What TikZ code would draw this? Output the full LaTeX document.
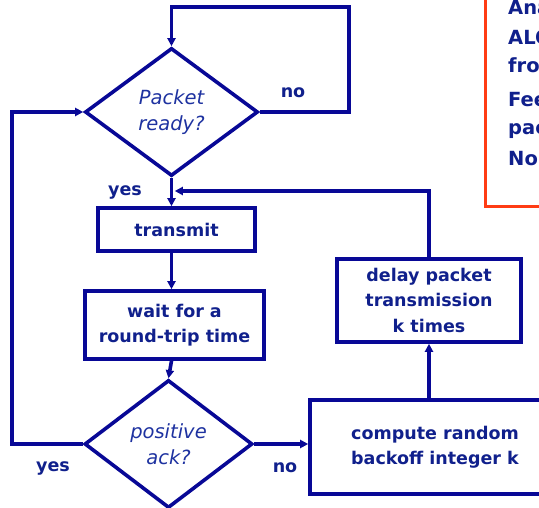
\documentclass[tikz,border=0pt]{standalone}
\usepackage{fontspec}
\setmainfont{DejaVu Sans}
\usetikzlibrary{shapes.geometric,arrows.meta}
\definecolor{flowline}{RGB}{8,8,150}
\definecolor{flowtext}{RGB}{16,32,140}
\definecolor{ackcol}{RGB}{30,50,160}
\definecolor{notered}{RGB}{255,60,20}
\tikzset{
  flow/.style={draw=flowline, line width=3.6pt},
  arr/.style={flow, -{Triangle[length=8pt,width=8pt]}},
  procbox/.style={flow, rectangle, inner sep=0pt, text=flowtext,
    font=\fontsize{17.5}{25}\selectfont\bfseries, align=center},
  decide/.style={flow, diamond, inner sep=0pt, text=ackcol,
    font=\fontsize{19.5}{26}\selectfont\itshape, align=center},
  tag/.style={text=flowtext, font=\fontsize{17.5}{18}\selectfont\bfseries, inner sep=0pt},
  notetext/.style={text=flowtext, font=\fontsize{19.5}{20}\selectfont\bfseries, inner sep=0pt, anchor=west},
}
\begin{document}
\begin{tikzpicture}[x=1pt,y=-1pt]
\useasboundingbox (0,0) rectangle (539,508);
\begin{scope}
\clip (0,0) rectangle (539,508);

% side note box (runs off the right edge)
\draw[draw=notered, line width=3pt] (485,-20) -- (485,207) -- (600,207);
\node[notetext] (n1) at (508,9) {Analogous};
\node[notetext] (n2) at (508,37) {ALOHA};
\node[notetext] (n3) at (508,65) {from};
\node[notetext] (n4) at (508,99) {Feedback};
\node[notetext] (n5) at (508,129) {packet};
\node[notetext] (n6) at (508,159) {No};

% decisions
\node[decide, minimum width=173pt, minimum height=128pt] (d1) at (171.5,112) {Packet\\ready?};
\node[decide, minimum width=168pt, minimum height=128pt] (d2) at (168.5,444) {positive\\ack?};

% process boxes
\node[procbox, minimum width=157pt, minimum height=43pt] (tx) at (176.5,229.5) {transmit};
\node[procbox, minimum width=179pt, minimum height=68pt] (wt) at (174.5,325) {wait for a\\round-trip time};
\node[procbox, minimum width=184pt, minimum height=83pt] (dl) at (429,300.5) {delay packet\\transmission\\[1pt]k times};
\node[procbox, minimum width=250pt, minimum height=94pt] (cp) at (435,447) {compute random\\backoff integer k};

% branch labels
\node[tag] (lno1) at (293,93) {no};
\node[tag] (lyes1) at (125,192) {yes};
\node[tag] (lyes2) at (53,468) {yes};
\node[tag] (lno2) at (285,468) {no};

% turning points of the loops
\coordinate (tr) at (349,7);
\coordinate (ll) at (12,444);
\coordinate (join) at (173,191);

% connectors
\draw[arr] (d1.east) -- (d1.east -| tr) -- (tr) -- (tr -| d1.north) -- (d1.north);
\draw[arr] (d1.south) -- (d1.south |- tx.north);
\draw[arr] (d1.south |- tx.south) -- (d1.south |- wt.north);
\draw[arr] (d1.south |- wt.south) -- (d2.north);
\draw[arr] (d2.west) -- (ll) -- (ll |- d1.west) -- (d1.west);
\draw[arr] (d2.east) -- (d2.east -| cp.west);
\draw[arr] (dl.south |- cp.north) -- (dl.south);
\draw[arr] (dl.north) -- (dl.north |- join) -- ([xshift=1.8pt]join);
\end{scope}
\end{tikzpicture}
\end{document}
